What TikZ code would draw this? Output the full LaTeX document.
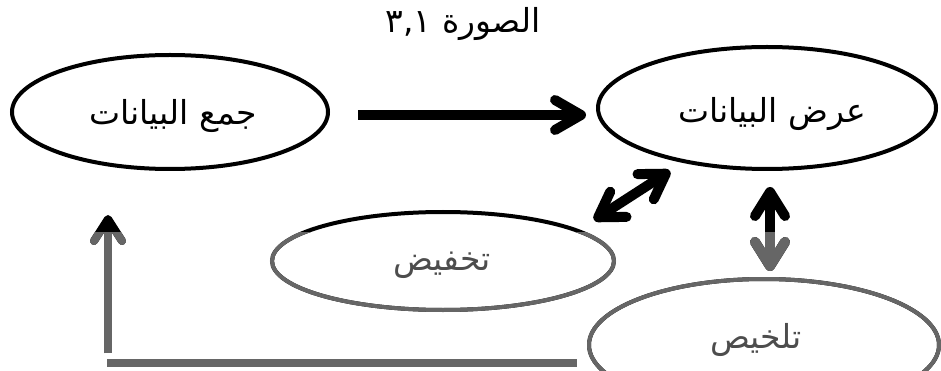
\documentclass[tikz,border=0pt]{standalone}
\usepackage{fontspec}
\usetikzlibrary{arrows.meta}
\TeXXeTstate=1
\newfontfamily\arabicfont[Script=Arabic]{DejaVu Sans}
\definecolor{tonegray}{HTML}{666666}
\definecolor{tonetext}{HTML}{4D4D4D}
\tikzset{
  lbl/.style={font=\arabicfont\fontsize{33}{38}\selectfont},
  bigarrow/.style={line width=10pt, -{Straight Barb[length=26pt,width=30pt,round]}},
  dblarrow/.style={line width=10pt, {Straight Barb[length=24pt,width=30pt,round]}-{Straight Barb[length=24pt,width=30pt,round]}},
  retarrow/.style={line width=8pt, -{Straight Barb[length=22pt,width=28pt,round]}},
}
\def\mydiagram#1{%
  \draw[#1, line width=4pt] (cL) ellipse [x radius=158, y radius=57];
  \draw[#1, line width=4pt] (cR) ellipse [x radius=169, y radius=61];
  \draw[#1, line width=4pt] (cT) ellipse [x radius=171, y radius=49];
  \draw[#1, line width=4pt] (cB) ellipse [x radius=175, y radius=66];
  \draw[#1, bigarrow] (pA1) -- (pA2);
  \draw[#1, dblarrow] (pD1) -- (pD2);
  \draw[#1, dblarrow] (pV1) -- (pV2);
  \draw[#1, line width=8pt] (pH1) -- (pH2);
  \draw[#1, retarrow] (pU1) -- (pU2);
}
\begin{document}
\begin{tikzpicture}[x=1pt,y=-1pt]
\useasboundingbox (0,0) rectangle (941,371);
% title
\node[lbl] (title) at (463,24) {\beginR الصورة \beginL٣,١\endL\endR};
% coordinates
\coordinate (cL) at (170,112);
\coordinate (cR) at (767,108);
\coordinate (cT) at (443,261);
\coordinate (cB) at (764,345);
\coordinate (pA1) at (358,115);
\coordinate (pA2) at (586,115);
\coordinate (pD1) at (594,220);
\coordinate (pD2) at (670,171);
\coordinate (pV1) at (770,187);
\coordinate (pV2) at (770,271);
\coordinate (pH1) at (107,363);
\coordinate (pH2) at (577,363);
\coordinate (pU1) at (108,353);
\coordinate (pU2) at (108,215);
\mydiagram{black}
\begin{scope}
  \clip (0,232) rectangle (941,371);
  \mydiagram{tonegray}
\end{scope}
% labels
\node[lbl] (nL) at (173,116) {\beginR جمع البيانات\endR};
\node[lbl] (nR) at (772,114) {\beginR عرض البيانات\endR};
\node[lbl, text=tonetext] (nT) at (442,265) {\beginR تخفيض\endR};
\node[lbl, text=tonetext] (nB) at (756,340) {\beginR تلخيص\endR};
\end{tikzpicture}
\end{document}
